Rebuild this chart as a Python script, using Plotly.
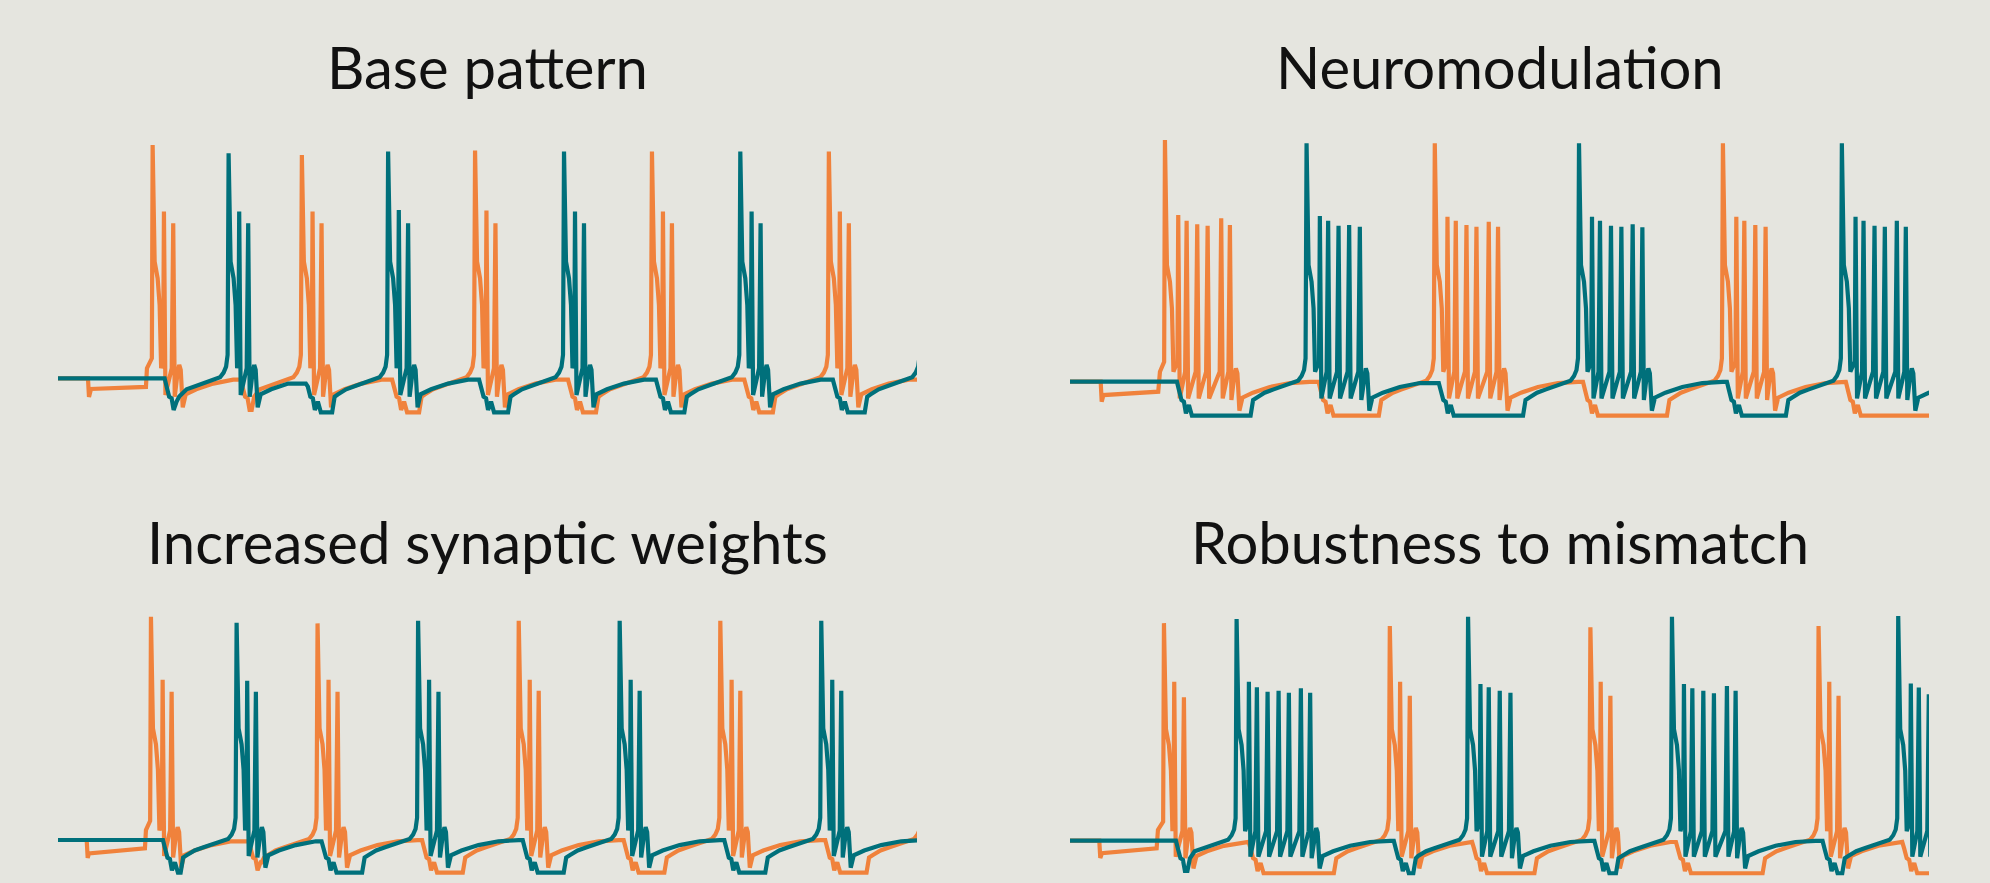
import plotly.graph_objects as go

# ---------------- data (time in ms, voltage in mV) ----------------
T_END = 8595
FLOOR = -60.2
PLATEAU = -50.0

titles = ["Base pattern", "Neuromodulation", "Increased synaptic weights", "Robustness to mismatch"]

# Panel 1 : Base pattern
p1_orange_spikes = [[947, 1060, 1153], [2440, 2547, 2637], [4173, 4287, 4377], [5943, 6053, 6143], [7713, 7823, 7913]]
p1_orange_peaks = [[20.0, 0.0, -3.5], [17.0, 0.0, -3.5], [18.3, 0.3, -3.5], [18.0, 0.0, -3.5], [18.0, 0.0, -3.5]]
p1_teal_spikes = [[1707, 1813, 1903], [3303, 3410, 3503], [5063, 5173, 5263], [6827, 6940, 7030], [8632, 8740, 8830]]
p1_teal_peaks = [[17.5, 0.0, -3.5], [18.0, 0.5, -3.5], [18.0, 0.0, -3.5], [18.0, 0.0, -3.5], [18.0, 0.0, -3.5]]
p1_orange_pre_t = [0, 300, 310, 330, 880, 890]
p1_orange_pre_v = [-50, -50, -55.6, -53.2, -52.6, -47]

# Panel 2 : Neuromodulation
p2_orange_spikes = [[950, 1083, 1167, 1273, 1377, 1513, 1600],
                    [3650, 3777, 3860, 3967, 4067, 4190, 4283],
                    [6533, 6667, 6747, 6857, 6960]]
p2_orange_peaks = [[22.5, 0.0, -1.7, -2.8, -3.2, -1.0, -3.0],
                   [21.5, -0.5, -1.7, -3.0, -3.5, -2.0, -3.5],
                   [21.5, -0.5, -1.7, -3.0, -3.5]]
p2_teal_spikes = [[2367, 2500, 2583, 2687, 2793, 2900],
                  [5093, 5223, 5303, 5413, 5517, 5630, 5727],
                  [7723, 7860, 7940, 8050, 8153, 8273, 8363]]
p2_teal_peaks = [[21.5, -0.3, -1.7, -3.2, -3.0, -3.5],
                 [21.5, -0.5, -1.7, -3.2, -3.5, -2.8, -3.7],
                 [21.5, -0.5, -1.7, -3.2, -3.5, -1.7, -3.5]]
p2_orange_pre_t = [0, 307, 317, 335, 883, 900]
p2_orange_pre_v = [-50, -50, -56, -54, -53, -47]

# Panel 3 : Increased synaptic weights
p3_orange_spikes = [[930, 1047, 1137], [2597, 2707, 2797], [4610, 4720, 4810], [6627, 6740, 6827], [8650, 8760, 8850]]
p3_orange_peaks = [[20.0, 0.2, -3.5], [17.9, 0.2, -3.5], [18.7, 0.2, -3.2], [18.7, 0.2, -3.2], [18.7, 0.2, -3.2]]
p3_teal_spikes = [[1787, 1893, 1980], [3603, 3713, 3807], [5620, 5730, 5820], [7637, 7747, 7837]]
p3_teal_peaks = [[18.1, -0.1, -3.5], [18.7, 0.2, -3.5], [18.7, 0.2, -3.2], [18.7, 0.2, -3.2]]
p3_orange_pre_t = [0, 287, 297, 310, 870, 880]
p3_orange_pre_v = [-50, -50, -55.6, -54.2, -52.6, -46.9]

# Panel 4 : Robustness to mismatch
p4_orange_spikes = [[940, 1043, 1140], [3200, 3303, 3400], [5207, 5310, 5407], [7490, 7597, 7690]]
p4_orange_peaks = [[18.2, -0.2, -5.0], [17.3, -0.2, -4.6], [16.9, -0.2, -4.6], [17.3, -0.2, -4.6]]
p4_teal_spikes = [[1667, 1790, 1870, 1977, 2087, 2190, 2310, 2403],
                  [3983, 4107, 4190, 4300, 4407],
                  [6023, 6143, 6227, 6337, 6443, 6573, 6660],
                  [8287, 8413, 8493, 8593, 8700]]
p4_teal_peaks = [[19.5, -0.2, -1.9, -3.3, -3.0, -3.6, -2.2, -3.6],
                 [20.2, -0.9, -1.9, -3.0, -3.6],
                 [20.2, -0.9, -2.2, -3.0, -3.8, -1.5, -3.0],
                 [20.4, -0.7, -2.0, -4.1, -3.0]]
p4_orange_pre_t = [0, 293, 303, 320, 867, 880]
p4_orange_pre_v = [-50, -50, -55.4, -53.9, -52.4, -46.6]

# waveform pieces (offsets in ms, voltage in mV)
shoulder_dt = [20, 50, 70, 85]
shoulder_v = [-15, -20, -28, -47]
tail_dt = [15, 45, 60, 75, 95, 125, 230, 400, 600, 800]
tail_v = [-55.5, -48, -46, -47.5, -58.7, -54.8, -53.3, -51.6, -50.4, -50.05]
ramp_dt = [-500, -420, -330, -250, -150, -85, -50, -25, -10]
ramp_v = [-54.8, -53.3, -52.3, -51.5, -50.6, -49.7, -48.3, -46.5, -43]
inhib_dt = [60, 85, 110, 130, 160, 190]
inhib_v = [-52.5, -55.5, -56, -59.5, -57, FLOOR]
INHIB_START = 40
FIRST_DELAY = 80
REBOUND_LEAD = 550
REBOUND_AFTER = 45
REBOUND_V = -55.5
TROUGH_V = -55.0
KINK_V = -47.0

ORANGE = "#F0823C"
TEAL = "#00707B"
BG = "#E5E5DF"
LINE_W = 4.2


def build(pre_t, pre_v, spikes, peaks, partner):
    ts, vs = list(pre_t), list(pre_v)

    def cut(t):
        while ts and ts[-1] > t:
            ts.pop()
            vs.pop()

    events = [(b[0], 0, i) for i, b in enumerate(spikes)] + [(b[0], 1, j) for j, b in enumerate(partner)]
    events.sort()
    inhibited = None
    n_inhib = 0
    for _, kind, idx in events:
        if kind == 1:
            q = partner[idx]
            d = FIRST_DELAY if n_inhib == 0 else 0
            n_inhib += 1
            start = q[0] + INHIB_START + d
            cut(start)
            level = vs[-1]
            ts.append(start); vs.append(level)
            for dt, v in zip(inhib_dt, inhib_v):
                ts.append(q[0] + dt + d); vs.append(v)
            inhibited = q[-1]
        else:
            s, p = spikes[idx], peaks[idx]
            if inhibited is not None:
                trb = max(s[0] - REBOUND_LEAD, inhibited + REBOUND_AFTER)
                cut(trb - 10)
                ts.append(trb - 10); vs.append(vs[-1])
                ts.append(trb + 15); vs.append(REBOUND_V)
                for dt, v in zip(ramp_dt, ramp_v):
                    if s[0] + dt > trb + 25:
                        ts.append(s[0] + dt); vs.append(v)
                inhibited = None
            else:
                ts.append(s[0] - 8); vs.append(-44)
            # first spike and its shoulder
            ts.append(s[0]); vs.append(p[0])
            for dt, v in zip(shoulder_dt, shoulder_v):
                ts.append(s[0] + dt); vs.append(v)
            for k in range(1, len(s)):
                if k == 1:
                    ts.append(s[k] - 8); vs.append(-44)
                else:
                    ts.append(s[k] - 15); vs.append(KINK_V)
                ts.append(s[k]); vs.append(p[k])
                if k < len(s) - 1:
                    ts.append(s[k] + 15); vs.append(TROUGH_V)
            for dt, v in zip(tail_dt, tail_v):
                ts.append(s[-1] + dt); vs.append(v)
    ts.append(T_END + 1000); vs.append(vs[-1])
    return ts, vs


panels = [
    (p1_orange_pre_t, p1_orange_pre_v, p1_orange_spikes, p1_orange_peaks, p1_teal_spikes, p1_teal_peaks),
    (p2_orange_pre_t, p2_orange_pre_v, p2_orange_spikes, p2_orange_peaks, p2_teal_spikes, p2_teal_peaks),
    (p3_orange_pre_t, p3_orange_pre_v, p3_orange_spikes, p3_orange_peaks, p3_teal_spikes, p3_teal_peaks),
    (p4_orange_pre_t, p4_orange_pre_v, p4_orange_spikes, p4_orange_peaks, p4_teal_spikes, p4_teal_peaks),
]

# layout geometry (paper fractions) for a 1990 x 883 page
W, H = 1990, 883
x_domains = [(58 / W, 917 / W), (1070 / W, 1929 / W), (58 / W, 917 / W), (1070 / W, 1929 / W)]
y_domains = [((H - 430) / H, (H - 120) / H), ((H - 430) / H, (H - 120) / H),
             ((H - 883) / H, (H - 590) / H), ((H - 883) / H, (H - 590) / H)]
y_ranges = [(-65.51, 27.49), (-64.49, 28.51), (-63.48, 28.375), (-63.26, 28.59)]
title_y = [(H - 66) / H, (H - 66) / H, (H - 541) / H, (H - 541) / H]

fig = go.Figure()
for i, (pt, pv, osp, opk, tsp, tpk) in enumerate(panels):
    xa = "x" if i == 0 else f"x{i + 1}"
    ya = "y" if i == 0 else f"y{i + 1}"
    ot, ov = build(pt, pv, osp, opk, tsp)
    tt, tv = build([0], [PLATEAU], tsp, tpk, osp)
    fig.add_trace(go.Scatter(x=ot, y=ov, mode="lines", line=dict(color=ORANGE, width=LINE_W),
                             xaxis=xa, yaxis=ya, showlegend=False, hoverinfo="skip"))
    fig.add_trace(go.Scatter(x=tt, y=tv, mode="lines", line=dict(color=TEAL, width=LINE_W),
                             xaxis=xa, yaxis=ya, showlegend=False, hoverinfo="skip"))

layout = dict(width=W, height=H, margin=dict(l=0, r=0, t=0, b=0),
              paper_bgcolor=BG, plot_bgcolor=BG, showlegend=False)
for i in range(4):
    xk = "xaxis" if i == 0 else f"xaxis{i + 1}"
    yk = "yaxis" if i == 0 else f"yaxis{i + 1}"
    anchor_y = "y" if i == 0 else f"y{i + 1}"
    anchor_x = "x" if i == 0 else f"x{i + 1}"
    layout[xk] = dict(domain=list(x_domains[i]), range=[0, T_END], visible=False,
                      showgrid=False, zeroline=False, anchor=anchor_y)
    layout[yk] = dict(domain=list(y_domains[i]), range=list(y_ranges[i]), visible=False,
                      showgrid=False, zeroline=False, anchor=anchor_x)
fig.update_layout(**layout)

for i in range(4):
    fig.add_annotation(text=titles[i], xref="paper", yref="paper",
                       x=(x_domains[i][0] + x_domains[i][1]) / 2, y=title_y[i],
                       xanchor="center", yanchor="middle", showarrow=False,
                       font=dict(family="Lato", size=58, color="#111111"))

fig.write_html("out.html", config={"displayModeBar": False},
               post_script="document.body.style.margin='0';document.body.style.background='" + BG + "';")
